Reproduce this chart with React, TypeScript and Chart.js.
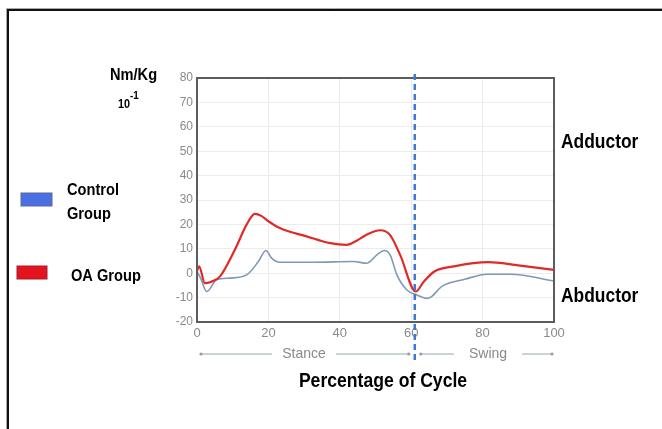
import React, { useEffect, useRef } from "react";
import { Chart, registerables } from "chart.js";

Chart.register(...registerables);

const oaX = [0, 0.6, 2.2, 4, 6.4, 10.6, 13.9, 16.2, 18, 20, 23.2, 30.7, 37.3, 41.9, 44.7, 47.5, 51.3, 54, 56.9, 61.3, 63.5, 66.5, 72, 81.5, 90, 100];
const oaY = [1, 2.8, -4.1, -3.5, -1.4, 9.6, 19.9, 24.3, 23.5, 21.3, 18.5, 15.1, 12.3, 11.6, 13.3, 15.8, 17.6, 15.8, 7.5, -7.5, -3.5, 0.7, 2.8, 4.5, 3.2, 1.4];
const ctrlX = [0, 1, 2.7, 5.5, 9.3, 13.9, 17.2, 19.3, 20.9, 23.2, 32.6, 43.8, 47.6, 50.4, 52.5, 54.1, 56, 58.8, 61.6, 64.3, 65.7, 68.5, 75, 81.3, 88, 100];
const ctrlY = [0.7, -2, -7.5, -2.7, -2, -0.7, 4.8, 9.3, 6.2, 4.5, 4.5, 4.8, 4.1, 7.5, 9.3, 7.5, -0.7, -6.9, -8.9, -10.3, -9.6, -5.5, -2.5, -0.4, -0.4, -3.2];
const yTicks = [-20, -10, 0, 10, 20, 30, 40, 50, 60, 70, 80];
const xTicks = [0, 20, 40, 60, 80, 100];
const phaseBoundary = 61;
const phaseLabels = ["Stance", "Swing"];
const legendLabels = ["Control Group", "OA Group"];

const TXT = "'Liberation Sans', Arial, sans-serif";

function cond(ctx: any, text: string, x: number, y: number, size: number, sx: number, align: string) {
  ctx.save();
  ctx.font = `bold ${size}px ${TXT}`;
  ctx.textBaseline = "middle";
  ctx.textAlign = align;
  ctx.translate(x, y);
  ctx.scale(sx, 1);
  ctx.fillText(text, 0, 0);
  ctx.restore();
}

const overlay = {
  id: "overlay",
  afterDraw(chart: any) {
    const { ctx, chartArea, scales } = chart;
    const xs = scales.x;
    const { left, right, top, bottom } = chartArea;
    ctx.save();
    // outer frame
    ctx.strokeStyle = "#111";
    ctx.lineWidth = 2;
    ctx.beginPath();
    ctx.moveTo(8, 440);
    ctx.lineTo(8, 10);
    ctx.lineTo(680, 10);
    ctx.stroke();
    ctx.strokeStyle = "#aaa";
    ctx.lineWidth = 1;
    ctx.beginPath();
    ctx.moveTo(6.5, 440);
    ctx.lineTo(6.5, 8.5);
    ctx.lineTo(680, 8.5);
    ctx.stroke();
    // plot frame
    ctx.strokeStyle = "#5c5c5c";
    ctx.lineWidth = 2;
    ctx.strokeRect(left, top, right - left, bottom - top);

    // phase arrows
    const bx = xs.getPixelForValue(phaseBoundary);
    const ay = 354;
    ctx.strokeStyle = "#b8c4c8";
    ctx.lineWidth = 1.5;
    const seg = (x1: number, x2: number) => {
      ctx.beginPath();
      ctx.moveTo(x1, ay);
      ctx.lineTo(x2, ay);
      ctx.stroke();
    };
    const x0 = xs.getPixelForValue(0) + 4;
    const x1 = xs.getPixelForValue(100) - 2;
    seg(x0, 272);
    seg(336, bx - 6);
    seg(bx + 6, 454);
    seg(522, x1);
    ctx.fillStyle = "#99a";
    [x0, bx - 6, bx + 6, x1].forEach((px) => {
      ctx.beginPath();
      ctx.arc(px, ay, 1.6, 0, Math.PI * 2);
      ctx.fill();
    });
    ctx.fillStyle = "#8a8a8a";
    ctx.font = "14px 'Liberation Sans', Arial, sans-serif";
    ctx.textAlign = "center";
    ctx.textBaseline = "middle";
    ctx.fillText(phaseLabels[0], 304, ay);
    ctx.fillText(phaseLabels[1], 488, ay);

    // dashed boundary
    ctx.strokeStyle = "#3f78d6";
    ctx.lineWidth = 2.5;
    ctx.setLineDash([6, 4]);
    ctx.beginPath();
    ctx.moveTo(bx, 74);
    ctx.lineTo(bx, 360);
    ctx.stroke();
    ctx.setLineDash([]);

    // texts
    ctx.fillStyle = "#000";
    cond(ctx, "Percentage of Cycle", 383, 381, 20, 0.88, "center");
    cond(ctx, "Adductor", 561, 142, 20, 0.87, "left");
    cond(ctx, "Abductor", 561, 296, 20, 0.87, "left");
    cond(ctx, "Nm/Kg", 110, 75, 17, 0.86, "left");
    cond(ctx, "10", 118, 105, 12, 0.9, "left");
    cond(ctx, "-1", 130, 96, 11, 0.9, "left");
    cond(ctx, "Control", 67, 190, 17, 0.86, "left");
    cond(ctx, "Group", 67, 214, 17, 0.86, "left");
    cond(ctx, "OA Group", 71, 276, 17, 0.86, "left");

    // legend boxes
    ctx.fillStyle = "#4a6fe3";
    ctx.fillRect(21, 193, 31, 13);
    ctx.strokeStyle = "#5a6a9a";
    ctx.lineWidth = 1;
    ctx.strokeRect(21, 193, 31, 13);
    ctx.fillStyle = "#e4141e";
    ctx.fillRect(17, 266, 30, 13);
    ctx.strokeStyle = "#a0202a";
    ctx.strokeRect(17, 266, 30, 13);
    ctx.restore();
  },
};

export default function App() {
  const ref = useRef<HTMLCanvasElement | null>(null);
  useEffect(() => {
    if (!ref.current) return;
    const chart = new Chart(ref.current, {
      type: "line",
      data: {
        datasets: [
          {
            label: legendLabels[1],
            data: oaX.map((x, i) => ({ x, y: oaY[i] })),
            borderColor: "#e02a2a",
            borderWidth: 2.2,
            pointRadius: 0,
            tension: 0.4,
            cubicInterpolationMode: "monotone",
          },
          {
            label: legendLabels[0],
            data: ctrlX.map((x, i) => ({ x, y: ctrlY[i] })),
            borderColor: "#7f98b8",
            borderWidth: 1.6,
            pointRadius: 0,
            tension: 0.4,
            cubicInterpolationMode: "monotone",
          },
        ],
      },
      options: {
        responsive: false,
        animation: false,
        layout: { padding: { left: 160, right: 108, top: 78, bottom: 87 } },
        plugins: { legend: { display: false }, tooltip: { enabled: false } },
        scales: {
          x: {
            type: "linear",
            min: 0,
            max: 100,
            afterBuildTicks: (s: any) => {
              s.ticks = xTicks.map((v) => ({ value: v }));
            },
            afterFit: (s: any) => {
              s.height = 20;
            },
            grid: { color: "#ececec", drawTicks: false, lineWidth: 1 },
            border: { display: false },
            ticks: { color: "#8a8a8a", font: { size: 13, family: "'Liberation Sans', Arial" }, padding: 4, maxRotation: 0 },
          },
          y: {
            min: -20,
            max: 80,
            afterBuildTicks: (s: any) => {
              s.ticks = yTicks.map((v) => ({ value: v }));
            },
            afterFit: (s: any) => {
              s.width = 37;
            },
            grid: { color: "#ececec", drawTicks: false, lineWidth: 1 },
            border: { display: false },
            ticks: { color: "#8a8a8a", font: { size: 12, family: "'Liberation Sans', Arial" }, padding: 4 },
          },
        },
      },
      plugins: [overlay],
    });
    return () => chart.destroy();
  }, []);
  return (
    <div style={{ position: "fixed", left: 0, top: 0, width: 662, height: 429, background: "#fff" }}>
      <canvas ref={ref} width={662} height={429} style={{ display: "block" }} />
    </div>
  );
}
